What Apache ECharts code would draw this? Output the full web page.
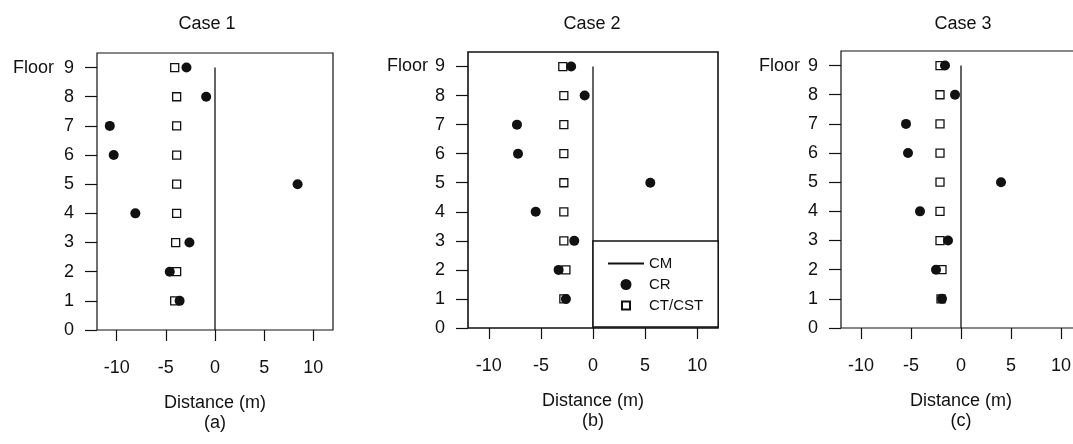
<!DOCTYPE html>
<html>
<head>
<meta charset="utf-8">
<title>Case 1-3: CR and CT/CST by floor</title>
<script src="https://cdn.jsdelivr.net/npm/echarts@6/dist/echarts.min.js"></script>
<style>
  html, body { margin: 0; padding: 0; background: #fff; }
  #chart { width: 1073px; height: 444px; }
</style>
</head>
<body>
<div id="chart"></div>
<script>
// floors 1..9 (y axis)
const floors = [1, 2, 3, 4, 5, 6, 7, 8, 9];

// CR (centre of rigidity) distance (m) per floor
const case1CR = [-3.6, -4.6, -2.6, -8.1, 8.4, -10.3, -10.7, -0.9, -2.9];
const case2CR = [-2.6, -3.3, -1.8, -5.5, 5.5, -7.2, -7.3, -0.8, -2.1];
const case3CR = [-1.9, -2.5, -1.3, -4.1, 4.0, -5.3, -5.5, -0.6, -1.6];

// CT/CST distance (m) per floor
const case1CT = [-4.1, -3.9, -4.0, -3.9, -3.9, -3.9, -3.9, -3.9, -4.1];
const case2CT = [-2.8, -2.6, -2.8, -2.8, -2.8, -2.8, -2.8, -2.8, -2.9];
const case3CT = [-2.0, -1.9, -2.1, -2.1, -2.1, -2.1, -2.1, -2.1, -2.1];

// CM reference line (x = 0 from floor 0 to floor 9)
const cmFloors = [0, 9];
const cmX = [0, 0];

// axis ticks
const xTicks = [-10, -5, 0, 5, 10];
const yTicks = [0, 1, 2, 3, 4, 5, 6, 7, 8, 9];

const caseTitles = ['Case 1', 'Case 2', 'Case 3'];
const panelTags = ['(a)', '(b)', '(c)'];
const crData = [case1CR, case2CR, case3CR];
const ctData = [case1CT, case2CT, case3CT];

// panel boxes in pixels (layout only)
const panels = [
  { left: 97, width: 236, top: 53, height: 277, titleX: 202, floorGap: 10 },
  { left: 468, width: 250, top: 52, height: 276, titleX: 587, floorGap: 7 },
  { left: 841, width: 240, top: 51, height: 277, titleX: 958, floorGap: 8 }
];

const FONT = "'Liberation Sans', Arial, Helvetica, sans-serif";
const INK = '#111';
const FS = 18;
const CLEAR = 'rgba(0,0,0,0)';

const chart = echarts.init(document.getElementById('chart'), null, { renderer: 'canvas' });

const option = {
  backgroundColor: '#fff',
  animation: false,
  textStyle: { fontFamily: FONT, color: INK },
  title: [],
  grid: [],
  xAxis: [],
  yAxis: [],
  series: [],
  legend: {
    left: 593,
    top: 241,
    orient: 'vertical',
    itemWidth: 36,
    itemHeight: 11,
    itemGap: 6,
    padding: [15, 15, 14, 14],
    borderColor: INK,
    borderWidth: 1.5,
    backgroundColor: '#fff',
    selectedMode: false,
    textStyle: { fontFamily: FONT, fontSize: 15, color: INK },
    data: [
      // line only, hide the centre symbol that line series add
      { name: 'CM', itemStyle: { color: CLEAR, borderColor: CLEAR, borderWidth: 0 } },
      { name: 'CR', icon: 'circle' },
      // small square centred in the 36x11 icon box
      { name: 'CT/CST', icon: 'path://M0,0M36,11M14,1.5L22,1.5L22,9.5L14,9.5Z' }
    ]
  }
};

panels.forEach((p, i) => {
  option.title.push({
    text: caseTitles[i],
    left: p.titleX,
    top: 10,
    textAlign: 'center',
    textStyle: { fontFamily: FONT, fontSize: FS, fontWeight: 'normal', color: INK }
  });

  option.grid.push({
    left: p.left,
    top: p.top,
    width: p.width,
    height: p.height,
    show: true,
    borderColor: INK,
    borderWidth: i === 1 ? 1.6 : 1.2,
    backgroundColor: 'transparent',
    containLabel: false,
    outerBoundsMode: 'none'
  });

  option.xAxis.push({
    type: 'value',
    gridIndex: i,
    min: -12,
    max: 12,
    axisLine: { show: false, onZero: false },
    splitLine: { show: false },
    axisTick: { show: true, length: 11, customValues: xTicks, lineStyle: { color: INK, width: 1.2 } },
    axisLabel: { customValues: xTicks, margin: 29, fontFamily: FONT, fontSize: FS, color: INK },
    name: 'Distance (m)\n' + panelTags[i],
    nameLocation: 'middle',
    nameGap: 63,
    nameMoveOverlap: false,
    nameTextStyle: { fontFamily: FONT, fontSize: FS, color: INK, lineHeight: 20 }
  });

  option.yAxis.push({
    type: 'value',
    gridIndex: i,
    min: 0,
    max: 9.5,
    axisLine: { show: false, onZero: false },
    splitLine: { show: false },
    axisTick: { show: true, length: 12, customValues: yTicks, lineStyle: { color: INK, width: 1.2 } },
    axisLabel: {
      customValues: yTicks,
      margin: 23,
      fontFamily: FONT,
      fontSize: FS,
      color: INK,
      formatter: (v) => (v === 9 ? '{f|Floor}9' : String(v)),
      rich: {
        f: { fontFamily: FONT, fontSize: FS, color: INK, padding: [0, p.floorGap, 0, 0] }
      }
    }
  });

  // CM line
  option.series.push({
    name: 'CM',
    type: 'line',
    xAxisIndex: i,
    yAxisIndex: i,
    data: cmFloors.map((f, k) => [cmX[k], f]),
    symbol: 'none',
    lineStyle: { color: INK, width: 1.3 },
    itemStyle: { color: INK },
    z: 1
  });

  // CT/CST hollow squares
  option.series.push({
    name: 'CT/CST',
    type: 'scatter',
    xAxisIndex: i,
    yAxisIndex: i,
    data: floors.map((f, k) => [ctData[i][k], f]),
    symbol: 'rect',
    symbolSize: 8,
    itemStyle: { color: '#fff', borderColor: INK, borderWidth: 1.3, opacity: 1 },
    z: 2
  });

  // CR filled dots
  option.series.push({
    name: 'CR',
    type: 'scatter',
    xAxisIndex: i,
    yAxisIndex: i,
    data: floors.map((f, k) => [crData[i][k], f]),
    symbol: 'circle',
    symbolSize: 10,
    itemStyle: { color: INK, opacity: 1 },
    z: 3
  });
});

chart.setOption(option);
</script>
</body>
</html>
